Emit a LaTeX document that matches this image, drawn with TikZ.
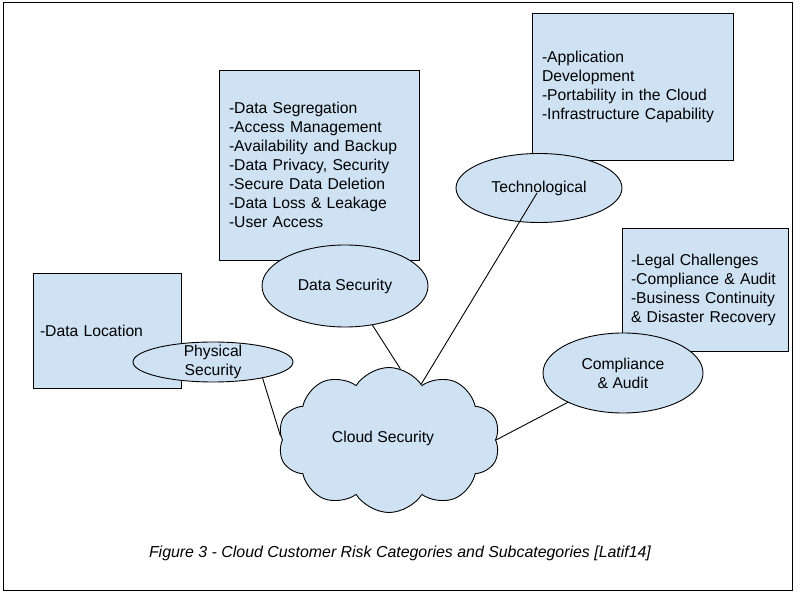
\documentclass[tikz,border=0pt]{standalone}
\usepackage{fontspec}
\setmainfont{Liberation Sans}
\usetikzlibrary{shapes.geometric,shapes.symbols}
\definecolor{lblue}{HTML}{CFE2F3}
\begin{document}
\begin{tikzpicture}[x=1pt,y=1pt,
  every node/.style={font=\fontsize{15.7}{19}\selectfont},
  infobox/.style={draw=black,line width=0.9pt,fill=lblue,rectangle,align=left,inner ysep=0pt},
  catell/.style={draw=black,line width=0.9pt,fill=lblue,ellipse,inner sep=0pt},
  plain/.style={align=center,inner sep=0pt},
  conn/.style={draw=black,line width=0.9pt}]
\useasboundingbox (0,0) rectangle (800,600);
\draw[line width=1pt] (3,10) rectangle (792,597);

% boxes
\node[infobox,minimum width=201pt,minimum height=147pt,text width=181pt,inner xsep=10pt] (techbox) at (632.5,513.5)
  {-Application\\Development\\-Portability in the Cloud\\-Infrastructure Capability};
\node[infobox,minimum width=200pt,minimum height=190pt,text width=180pt,inner xsep=10pt] (databox) at (319,435)
  {-Data Segregation\\-Access Management\\-Availability and Backup\\-Data Privacy, Security\\-Secure Data Deletion\\-Data Loss \& Leakage\\-User Access};
\node[infobox,minimum width=148pt,minimum height=115pt,text width=134pt,inner xsep=7pt] (physbox) at (107,269.5)
  {-Data Location};
\node[infobox,minimum width=166pt,minimum height=123pt,text width=148pt,inner xsep=9pt] (compbox) at (705,310.5)
  {-Legal Challenges\\-Compliance \& Audit\\-Business Continuity\\\& Disaster Recovery};

% category ellipses
\node[catell,minimum width=166pt,minimum height=69pt] (tech) at (539,412) {};
\node[plain] (techtxt) at (tech.center) {Technological};
\node[catell,minimum width=166pt,minimum height=82pt] (ds) at (345,314) {};
\node[plain] (dstxt) at (ds.center) {Data Security};
\node[catell,minimum width=160pt,minimum height=40pt] (ps) at (213,238) {};
\node[plain] (pstxt) at (ps.center) {Physical\\Security};
\node[catell,minimum width=160pt,minimum height=80pt] (ca) at (623,227) {};
\node[plain] (catxt) at (ca.center) {Compliance\\\& Audit};

% cloud
\node[cloud,draw=black,line width=0.9pt,fill=lblue,cloud puffs=10,cloud puff arc=115,
  cloud ignores aspect,minimum width=222pt,minimum height=145pt,inner sep=0pt] (cloud) at (389,160) {};
\node[plain] (cloudtxt) at (383,162) {Cloud Security};

% connectors
\coordinate (tq) at ([shift={(-2,-5)}]tech.center);
\draw[conn] (tq) -- (cloud.60);
\draw[conn] (ds.-55) -- (cloud.81);
\draw[conn] (ps.-18) -- (cloud.178);
\draw[conn] (ca.208) -- (cloud.0);

% caption
\node[plain,font=\fontsize{15.9}{19}\selectfont\itshape] (caption) at (400,47)
  {Figure 3 - Cloud Customer Risk Categories and Subcategories [Latif14]};
\end{tikzpicture}
\end{document}
